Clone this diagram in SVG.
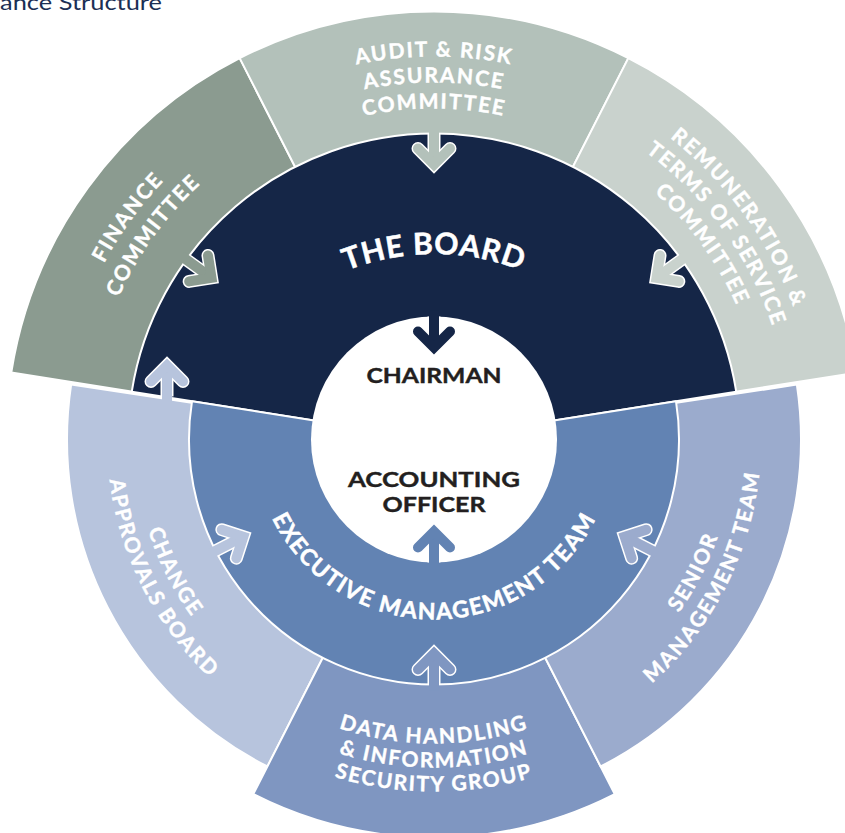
<svg xmlns="http://www.w3.org/2000/svg" width="845" height="833" viewBox="0 0 845 833">
<defs>
<style>
.sep{stroke:#fff;stroke-width:2;stroke-linejoin:round}
.lbl{font-family:Lato,"Open Sans","Liberation Sans",sans-serif;font-weight:700;fill:#fff;stroke:#fff;stroke-width:0.4;font-size:21px;letter-spacing:1.8px}
.big{font-family:Lato,"Open Sans","Liberation Sans",sans-serif;font-weight:700;fill:#fff;stroke:#fff;stroke-width:0.5}
.ctr{font-family:Lato,"Open Sans","Liberation Sans",sans-serif;font-weight:700;fill:#231f20;stroke:#231f20;stroke-width:0.4;font-size:21px}
.o{fill:none;stroke:#fff;stroke-width:13;stroke-linejoin:miter}
.f{fill:none;stroke:currentColor;stroke-width:10;stroke-linejoin:miter}
.b{stroke-linecap:butt}
.r{stroke-linecap:round}
</style>
<g id="arrow">
<path class="o b" d="M0,0H31"/>
<path class="o r" d="M15,-16L31,0L15,16"/>
<path class="f b" d="M-6,0H31"/>
<path class="f r" d="M15,-16L31,0L15,16"/>
</g>
<path id="u383" d="M56.82,372.99 A383,383 0 0,1 811.18,372.99"/>
<path id="u357" d="M82.42,377.51 A357,357 0 0,1 785.58,377.51"/>
<path id="u331" d="M108.03,382.02 A331,331 0 0,1 759.97,382.02"/>
<path id="u374" d="M65.68,374.55 A374,374 0 0,1 802.32,374.55"/>
<path id="u346" d="M93.26,379.42 A346,346 0 0,1 774.74,379.42"/>
<path id="l300" d="M138.56,491.6 A300,300 0 0,0 729.44,491.6"/>
<path id="l327" d="M111.97,496.28 A327,327 0 0,0 756.03,496.28"/>
<path id="l304" d="M134.62,492.29 A304,304 0 0,0 733.38,492.29"/>
<path id="l328" d="M110.98,496.46 A328,328 0 0,0 757.02,496.46"/>
<path id="l352" d="M87.35,500.62 A352,352 0 0,0 780.65,500.62"/>
<path id="boardArc" d="M196,492 A238,238 0 0,1 672,492"/>
<path id="execArc" d="M254,439.5 A180,180 0 0,0 614,439.5"/>
</defs>

<text x="0" y="10" font-family="Lato, 'Open Sans', 'Liberation Sans', sans-serif" font-size="22" fill="#1c2f55" textLength="162" lengthAdjust="spacingAndGlyphs">ance Structure</text>

<g id="finance-committee">
<path class="sep" fill="#8b9b90" d="M434,439.5 L11.27,372.55 A428,428 0 0,1 239.69,58.15 Z"/>
<text class="lbl" text-anchor="middle" transform="rotate(-54 434 439.5)"><textPath href="#u374" startOffset="50%">FINANCE</textPath></text>
<text class="lbl" text-anchor="middle" transform="rotate(-54 434 439.5)"><textPath href="#u346" startOffset="50%">COMMITTEE</textPath></text>
</g>
<g id="audit-risk-assurance-committee">
<path class="sep" fill="#b3c1ba" d="M434,439.5 L239.69,58.15 A428,428 0 0,1 628.31,58.15 Z"/>
<text class="lbl" text-anchor="middle"><textPath href="#u383" startOffset="50%">AUDIT &amp; RISK</textPath></text>
<text class="lbl" text-anchor="middle"><textPath href="#u357" startOffset="50%">ASSURANCE</textPath></text>
<text class="lbl" text-anchor="middle"><textPath href="#u331" startOffset="50%">COMMITTEE</textPath></text>
</g>
<g id="remuneration-committee">
<path class="sep" fill="#c9d2cd" d="M434,439.5 L628.31,58.15 A428,428 0 0,1 856.73,372.55 Z"/>
<text class="lbl" text-anchor="middle" transform="rotate(54 434 439.5)"><textPath href="#u383" startOffset="50%">REMUNERATION &amp;</textPath></text>
<text class="lbl" text-anchor="middle" transform="rotate(54 434 439.5)"><textPath href="#u357" startOffset="50%">TERMS OF SERVICE</textPath></text>
<text class="lbl" text-anchor="middle" transform="rotate(54 434 439.5)"><textPath href="#u331" startOffset="50%">COMMITTEE</textPath></text>
</g>
<g id="change-approvals-board">
<path class="sep" fill="#b7c4dd" d="M434,439.5 L267.39,766.5 A367,367 0 0,1 71.13,384.62 Z"/>
<text class="lbl" text-anchor="middle" transform="rotate(63 434 439.5)"><textPath href="#l300" startOffset="50%">CHANGE</textPath></text>
<text class="lbl" text-anchor="middle" transform="rotate(63 434 439.5)"><textPath href="#l327" startOffset="50%">APPROVALS BOARD</textPath></text>
</g>
<g id="data-handling-group">
<path class="sep" fill="#7f96c1" d="M434,439.5 L614.69,794.12 A398,398 0 0,1 253.31,794.12 Z"/>
<text class="lbl" text-anchor="middle" letter-spacing="2.2"><textPath href="#l304" startOffset="50%">DATA HANDLING</textPath></text>
<text class="lbl" text-anchor="middle" letter-spacing="2.2"><textPath href="#l328" startOffset="50%">&amp; INFORMATION</textPath></text>
<text class="lbl" text-anchor="middle" letter-spacing="2.2"><textPath href="#l352" startOffset="50%">SECURITY GROUP</textPath></text>
</g>
<g id="senior-management-team">
<path class="sep" fill="#9babcd" d="M434,439.5 L796.87,384.62 A367,367 0 0,1 600.61,766.5 Z"/>
<text class="lbl" text-anchor="middle" transform="rotate(-63 434 439.5)"><textPath href="#l300" startOffset="50%">SENIOR</textPath></text>
<text class="lbl" text-anchor="middle" transform="rotate(-63 434 439.5)"><textPath href="#l327" startOffset="50%">MANAGEMENT TEAM</textPath></text>
</g>
<g id="the-board">
<path class="sep" fill="#152647" d="M434,439.5 L131.77,391.63 A306,306 0 0,1 736.23,391.63 Z"/>
<text class="big" font-size="30" letter-spacing="0.8" text-anchor="middle"><textPath href="#boardArc" startOffset="50%">THE BOARD</textPath></text>
</g>
<g id="executive-management-team">
<path class="sep" fill="#6283b3" d="M434,439.5 L675.98,401.17 A245,245 0 1,1 192.02,401.17 Z"/>
<text class="big" font-size="23" letter-spacing="1.5" text-anchor="middle"><textPath href="#execArc" startOffset="50%">EXECUTIVE MANAGEMENT TEAM</textPath></text>
</g>
<g id="center">
<circle cx="434" cy="439.5" r="123" fill="#fff"/>
</g>
<g id="chairman">
<text class="ctr" x="434" y="383" text-anchor="middle" textLength="135" lengthAdjust="spacingAndGlyphs">CHAIRMAN</text>
</g>
<g id="accounting-officer">
<text class="ctr" x="434" y="487" text-anchor="middle" textLength="172" lengthAdjust="spacingAndGlyphs">ACCOUNTING</text>
<text class="ctr" x="434" y="512" text-anchor="middle" textLength="103" lengthAdjust="spacingAndGlyphs">OFFICER</text>
</g>

<g id="connectors">
<use href="#arrow" color="#b3c1ba" transform="translate(434,133.5) rotate(90)"/>
<use href="#arrow" color="#8b9b90" transform="translate(186.44,259.64) rotate(36)"/>
<use href="#arrow" color="#c9d2cd" transform="translate(681.56,259.64) rotate(144)"/>
<use href="#arrow" color="#152647" transform="translate(434,316.5) rotate(90)"/>
<use href="#arrow" color="#6283b3" transform="translate(434,562.5) rotate(-90)"/>
<use href="#arrow" color="#b7c4dd" transform="translate(215.7,550.73) rotate(-27)"/>
<use href="#arrow" color="#7f96c1" transform="translate(434,684.5) rotate(-90)"/>
<use href="#arrow" color="#9babcd" transform="translate(652.3,550.73) rotate(-153)"/>
<use href="#arrow" color="#b7c4dd" transform="translate(167,396.5) rotate(-90)"/>
</g>
</svg>
